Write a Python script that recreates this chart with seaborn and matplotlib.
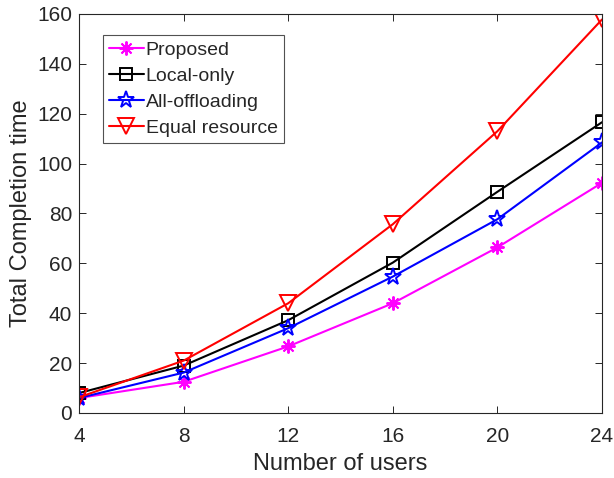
import matplotlib
matplotlib.use("Agg")
import matplotlib.pyplot as plt
import seaborn as sns
import pandas as pd

users = [4, 8, 12, 16, 20, 24]
proposed = [6.0, 12.5, 26.7, 44.0, 66.4, 92.3]
local_only = [8.0, 19.0, 37.2, 60.3, 88.7, 116.6]
all_offloading = [6.0, 16.2, 34.0, 54.7, 77.7, 108.5]
equal_resource = [6.3, 21.0, 44.0, 75.7, 113.0, 157.8]

series = [
    ("Proposed", proposed, "#ff00ff", (8, 2, 0), 10),
    ("Local-only", local_only, "black", "s", 8),
    ("All-offloading", all_offloading, "blue", "*", 12.5),
    ("Equal resource", equal_resource, "red", "v", 12),
]

sns.set_style("ticks")
plt.rcParams["font.family"] = ["Liberation Sans", "DejaVu Sans"]

fig = plt.figure(figsize=(6.14, 4.78), dpi=100)
ax = fig.add_axes([79 / 614, 1 - 413 / 478, 523 / 614, 399 / 478])

for name, vals, col, mk, ms in series:
    df = pd.DataFrame({"users": users, "time": vals})
    sns.lineplot(data=df, x="users", y="time", ax=ax, color=col, marker=mk,
                 markersize=ms, mec=col, mfc="none", mew=1.4, linewidth=1.5,
                 label=name)

ax.set_xlim(4, 24)
ax.set_ylim(0, 160)
ax.set_xticks(users)
ax.set_yticks(range(0, 161, 20))
ax.tick_params(direction="in", top=True, right=True, labelsize=15,
               length=5, width=0.7, colors="#262626")
ax.tick_params(axis="x", pad=10)
ax.tick_params(axis="y", pad=5)
for s in ax.spines.values():
    s.set_visible(True)
    s.set_linewidth(0.8)
    s.set_color("#262626")
ax.set_xlabel("Number of users", fontsize=17, color="#262626")
ax.set_ylabel("Total Completion time", fontsize=17, color="#262626")
ax.xaxis.set_label_coords(0.5, -0.1)
ax.yaxis.set_label_coords(-0.09, 0.5)

leg = ax.legend(loc="upper left", bbox_to_anchor=(0.046, 0.947), fontsize=14,
                frameon=True, fancybox=False, edgecolor="#262626",
                handlelength=1.8, handletextpad=0.1, borderpad=0.3,
                labelspacing=0.44, borderaxespad=0)
leg.get_frame().set_linewidth(0.8)

fig.savefig("out.png", dpi=100)
